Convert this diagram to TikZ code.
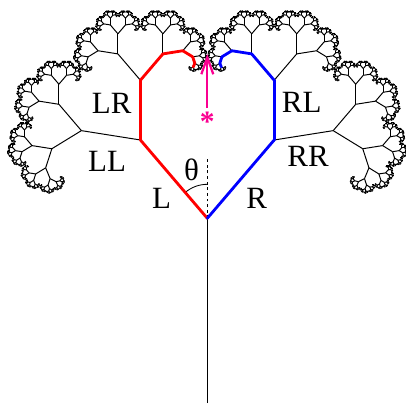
\documentclass[tikz,border=0pt]{standalone}
\usepackage{fontspec}
\setmainfont{Liberation Serif}
\usetikzlibrary{arrows.meta}
\pgfdeclarelayer{front}
\pgfsetlayers{main,front}
\definecolor{starpink}{RGB}{250,0,145}
\tikzstyle{twig}=[line width=0.7pt,black]
\tikzstyle{redpath}=[line width=2pt,red,line cap=round,line join=round]
\tikzstyle{bluepath}=[line width=2pt,blue,line cap=round,line join=round]
\tikzstyle{part}=[font=\fontsize{22}{24}\selectfont,inner sep=0pt]

% one branch and all its children: x, y, angle from up, length, depth, colour flag
\newcommand\branch[6]{%
  \ifnum#5>0
    \pgfmathsetmacro\tx{#1+#4*sin(#3)}%
    \pgfmathsetmacro\ty{#2+#4*cos(#3)}%
    \ifcase#6
      \draw[twig] (#1,#2) -- (\tx,\ty);
    \or
      \begin{pgfonlayer}{front}\draw[redpath] (#1,#2) -- (\tx,\ty);\end{pgfonlayer}
    \or
      \begin{pgfonlayer}{front}\draw[bluepath] (#1,#2) -- (\tx,\ty);\end{pgfonlayer}
    \fi
    \pgfmathsetmacro\tl{#4*0.58}%
    \pgfmathsetmacro\ta{#3-40.5}%
    \pgfmathsetmacro\tb{#3+40.5}%
    \ifnum#6=1 \def\fa{0}\def\fb{1}\else\ifnum#6=2 \def\fa{2}\def\fb{0}\else\def\fa{0}\def\fb{0}\fi\fi
    \ifnum#5<7 \def\fa{0}\def\fb{0}\fi
    \edef\tnext{\noexpand\branch{\tx}{\ty}{\ta}{\tl}{\the\numexpr#5-1\relax}{\fa}%
      \noexpand\branch{\tx}{\ty}{\tb}{\tl}{\the\numexpr#5-1\relax}{\fb}}%
    \tnext
  \fi}

\begin{document}
\begin{tikzpicture}[x=0.025cm,y=0.025cm]
\useasboundingbox (0,0) rectangle (406,403);
\coordinate (root) at (207.3,184.7);
\coordinate (base) at (207.3,0);
\coordinate (up) at (207.3,245);
\coordinate (tail) at (207.3,295);
\coordinate (tip) at (207.3,349);

\draw[twig] (base) -- (root);
\branch{207.3}{184.7}{-40.5}{103}{12}{1}
\branch{207.3}{184.7}{40.5}{103}{12}{2}

% angle mark
\draw[line width=0.6pt,dash pattern=on 2pt off 2pt] (root) -- (up);
\draw[line width=0.6pt] (root) ++(90:34) arc[start angle=90,end angle=130.5,radius=34];

\node[part] (l) at (161.5,205) {L};
\node[part] (r) at (256.7,204.5) {R};
\node[part] (th) at (191.5,233.5) {θ};
\node[part] (ll) at (107,242) {LL};
\node[part] (lr) at (111.7,300) {LR};
\node[part] (rl) at (301.7,300.5) {RL};
\node[part] (rr) at (308,246.5) {RR};

\node[font=\fontsize{21}{21}\selectfont\bfseries,text=starpink,inner sep=0pt,yshift=-3pt] (star) at (207.3,285.3) {*};
\draw[draw=starpink,line width=1.6pt,-{Straight Barb[length=12pt,width=8.5pt]}] (tail) -- (tip);
\end{tikzpicture}
\end{document}
